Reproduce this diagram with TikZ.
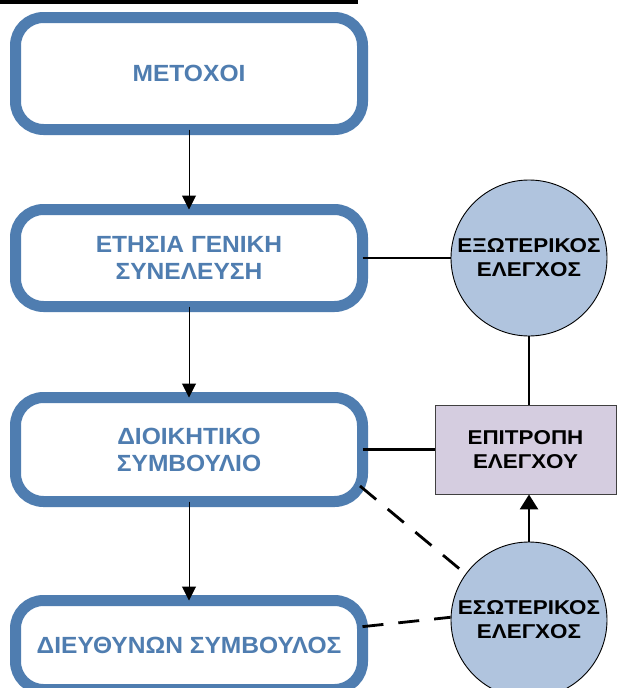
\documentclass[tikz,border=0pt]{standalone}
\usepackage{fontspec}
\setmainfont{Liberation Sans}
\newfontfamily\boxfont[FakeStretch=1.05]{Liberation Sans}
\newfontfamily\auditfont[FakeStretch=1.12]{Liberation Sans}
\usepackage{tikz}
\usetikzlibrary{positioning, arrows.meta, calc}
\definecolor{boxblue}{RGB}{79,125,176}
\definecolor{circblue}{RGB}{176,196,222}
\definecolor{rectlilac}{RGB}{213,205,224}

\begin{document}
\begin{tikzpicture}[x=1pt, y=-1pt,
        orgbox/.style={draw=boxblue, line width=11pt, rounded corners=28pt, fill=white, text=boxblue, minimum width=347pt, outer sep=0pt, align=center, font=\boxfont\bfseries\fontsize{23.4}{27}\selectfont},
        audit/.style={circle, draw, line width=0.9pt, fill=circblue, minimum size=156pt, inner sep=0pt, align=center, font=\auditfont\bfseries\fontsize{20}{24}\selectfont},
        flow/.style={line width=1pt, -{Triangle[width=14pt, length=14pt]}},
        link/.style={line width=2.8pt},
        dashlink/.style={line width=2.8pt, dash pattern=on 21pt off 15pt}]
            \fill[white] (0, 0) rectangle (617, 688);
            \useasboundingbox (0, 0) rectangle (617, 688);
            \fill[black] (0, 0) rectangle (358, 4);
            \node [orgbox, minimum height=112pt] (M) at (189, 73.5) {ΜΕΤΟΧΟΙ};
            \node [orgbox, minimum height=97pt] (G) at (189, 258) {ΕΤΗΣΙΑ ΓΕΝΙΚΗ\\ΣΥΝΕΛΕΥΣΗ};
            \node [orgbox, minimum height=104pt] (D) at (189, 449.5) {ΔΙΟΙΚΗΤΙΚΟ\\ΣΥΜΒΟΥΛΙΟ};
            \node [orgbox, minimum height=89pt] (C) at (189, 645) {ΔΙΕΥΘΥΝΩΝ ΣΥΜΒΟΥΛΟΣ};
            \node [audit] (X) at (529, 258) {ΕΞΩΤΕΡΙΚΟΣ\\ΕΛΕΓΧΟΣ};
            \node [audit] (E) at (529, 620) {ΕΣΩΤΕΡΙΚΟΣ\\ΕΛΕΓΧΟΣ};
            \node [draw=black!75, line width=0.9pt, fill=rectlilac, minimum width=181pt, minimum height=89pt, align=center, font=\auditfont\bfseries\fontsize{20}{24}\selectfont] (A) at (525.5, 449.5) {ΕΠΙΤΡΟΠΗ\\ΕΛΕΓΧΟΥ};
            \draw[flow] (M) -- (G);
            \draw[flow] (G) -- (D);
            \draw[flow] (D) -- (C);
            \draw[link] (G) -- (X);
            \draw[link] (D) -- (A);
            \draw[link] (X) -- (X |- A.north);
            \draw[line width=2.8pt, -{Triangle[width=18pt, length=15pt]}] (E) -- (E |- A.south);
            \draw[dashlink] ($(D.south east)+(-2.5, -15.5)$) -- (E.144);
            \draw[dashlink] (C) -- (E.178);
        \end{tikzpicture}
\end{document}
